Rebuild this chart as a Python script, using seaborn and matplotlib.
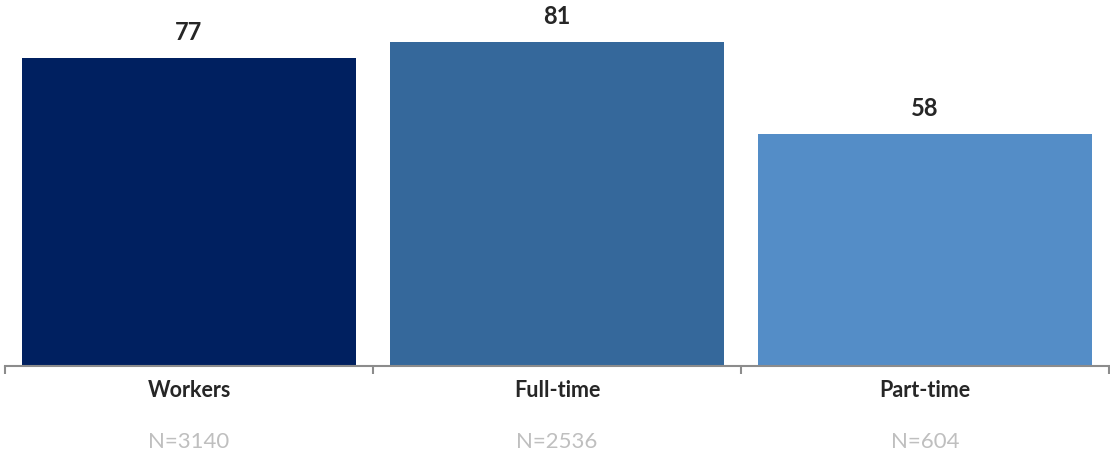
import matplotlib
matplotlib.use("Agg")
import matplotlib.pyplot as plt
import seaborn as sns
import pandas as pd

categories = ["Workers", "Full-time", "Part-time"]
values = [77, 81, 58]
sample_sizes = ["N=3140", "N=2536", "N=604"]
colors = ["#002060", "#35689B", "#548DC7"]

sns.set_theme(style="white")
plt.rcParams["font.family"] = ["Lato", "DejaVu Sans"]

df = pd.DataFrame({"group": categories, "value": values})

fig = plt.figure(figsize=(11.10, 4.54), dpi=100)
ax = fig.add_axes([5 / 1110, 88 / 454, 1104 / 1110, 366 / 454])

sns.barplot(data=df, x="group", y="value", hue="group", palette=colors,
            width=0.91, saturation=1, legend=False, linewidth=0, ax=ax)

ax.set_xlim(-0.5, 2.5)
ax.set_ylim(0, 91.5)
ax.set_xlabel("")
ax.set_ylabel("")
ax.set_yticks([])

for side in ["top", "right", "left"]:
    ax.spines[side].set_visible(False)
ax.spines["bottom"].set_color("#8C8C8C")
ax.spines["bottom"].set_linewidth(1.5)

# ticks sit on the category boundaries, labels at the centres
ax.set_xticks(range(len(categories)))
ax.set_xticklabels(categories, fontsize=15.5, fontweight="bold", color="#262626")
ax.set_xticks([-0.5, 0.5, 1.5, 2.5], minor=True)
ax.tick_params(axis="x", which="minor", bottom=True, length=6, width=1.5,
               color="#8C8C8C", direction="out")
ax.tick_params(axis="x", which="major", bottom=False, length=0, pad=10)

for i, v in enumerate(values):
    ax.annotate(str(v), xy=(i, v), xytext=(0, 18), textcoords="offset points",
                ha="center", va="center", fontsize=17, fontweight="bold", color="#262626")

for i, n in enumerate(sample_sizes):
    ax.annotate(n, xy=(i, 0), xycoords=("data", "axes fraction"),
                xytext=(0, -55), textcoords="offset points",
                ha="center", va="center", fontsize=16, color="#BFBFBF")

fig.savefig("out.png", dpi=100)
plt.close(fig)
